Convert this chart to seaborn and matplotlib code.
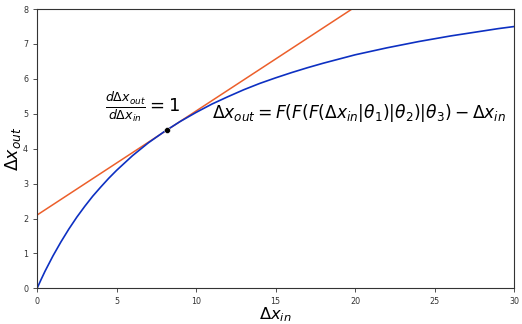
import numpy as np
import pandas as pd
import matplotlib
matplotlib.use("Agg")
import matplotlib.pyplot as plt
import seaborn as sns

# Blue response curve
x_in = [0, 0.25, 0.5, 1, 1.5, 2, 2.5, 3, 3.5, 4, 4.5, 5, 6, 7, 8, 9, 10, 11, 12, 13, 14, 15,
        16, 17, 18, 19, 20, 21, 22, 23, 24, 25, 26, 27, 28, 29, 30]
x_out = [0, 0.25, 0.49, 0.93, 1.33, 1.70, 2.04, 2.35, 2.64, 2.90, 3.15, 3.38, 3.80, 4.17,
         4.49, 4.78, 5.04, 5.28, 5.49, 5.69, 5.87, 6.03, 6.18, 6.32, 6.45, 6.57, 6.69, 6.79,
         6.89, 6.98, 7.07, 7.15, 7.23, 7.30, 7.37, 7.44, 7.50]

# Tangent line (orange)
tan_x = [0, 30]
tan_y = [2.10, 11.04]

# Tangent point
pt_x = [8.2]
pt_y = [4.55]

plt.rcParams['mathtext.fontset'] = 'dejavusans'
fig = plt.figure(figsize=(5.22, 3.24), dpi=100)
ax = fig.add_axes([0.071, 0.11, 0.914, 0.862])

df_curve = pd.DataFrame({"x": x_in, "y": x_out})
df_tan = pd.DataFrame({"x": tan_x, "y": tan_y})
df_pt = pd.DataFrame({"x": pt_x, "y": pt_y})

sns.lineplot(data=df_tan, x="x", y="y", ax=ax, color="#ec5f2b", linewidth=1.1)
sns.lineplot(data=df_curve, x="x", y="y", ax=ax, color="#0d30c2", linewidth=1.2)
sns.scatterplot(data=df_pt, x="x", y="y", ax=ax, color="black", s=18, zorder=5)

ax.set_xlim(0, 30)
ax.set_ylim(0, 8)
ax.set_xticks([0, 5, 10, 15, 20, 25, 30])
ax.set_yticks(range(0, 9))
ax.tick_params(labelsize=5.8, length=3, width=0.6, colors="#333333")
for s in ax.spines.values():
    s.set_linewidth(0.8)
    s.set_color("#333333")

ax.set_xlabel(r"$\Delta x_{in}$", fontsize=11.8, labelpad=-1)
ax.set_ylabel(r"$\Delta x_{out}$", fontsize=12.5, labelpad=0)

ax.text(4.3, 5.2, r"$\frac{d\Delta x_{out}}{d\Delta x_{in}} = 1$", fontsize=13,
        va="center", ha="left")
ax.text(11.0, 5.03, r"$\Delta x_{out} = F(F(F(\Delta x_{in}|\theta_1)|\theta_2)|\theta_3) - \Delta x_{in}$",
        fontsize=12.3, va="center", ha="left")

fig.savefig("out.png", dpi=100)
